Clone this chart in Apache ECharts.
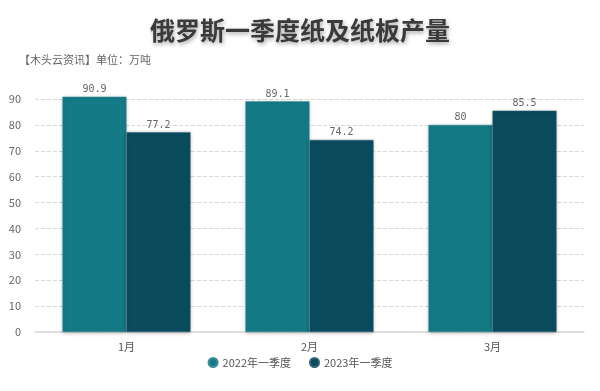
<!DOCTYPE html>
<html><head><meta charset="utf-8">
<script src="https://cdn.jsdelivr.net/npm/echarts@6/dist/echarts.min.js"></script>
<style>html,body{margin:0;padding:0;background:#fff}#c{width:600px;height:391px}</style>
</head><body><div id="c"></div>
<script>
var categories = ['1月', '2月', '3月'];
var seriesNames = ['2022年一季度', '2023年一季度'];
var values2022 = [90.9, 89.1, 80];
var values2023 = [77.2, 74.2, 85.5];
var titleText = '俄罗斯一季度纸及纸板产量';
var subText = '【木头云资讯】单位：万吨';

var chart = echarts.init(document.getElementById('c'));
var font = '"Noto Sans CJK SC", "Noto Sans", sans-serif';
chart.setOption({
  animation: false,
  textStyle: { fontFamily: font },
  title: [{
    text: titleText, left: 'center', top: 13,
    textStyle: { fontSize: 25, fontWeight: 'bold', color: '#3a3a3a', fontFamily: font,
      textShadowColor: 'rgba(0,0,0,0.35)', textShadowBlur: 4, textShadowOffsetX: 1, textShadowOffsetY: 2 }
  }, {
    text: subText, left: 14, top: 49,
    textStyle: { fontSize: 11, fontWeight: 'normal', color: '#666', fontFamily: font }
  }],
  legend: {
    bottom: 18, left: 'center', icon: 'circle', itemWidth: 9, itemHeight: 9, itemGap: 18,
    textStyle: { fontSize: 11, color: '#555' },
    data: seriesNames
  },
  grid: { left: 35, right: 16, top: 99, bottom: 59 },
  xAxis: {
    type: 'category', data: categories,
    axisLine: { lineStyle: { color: '#d9d9d9', width: 1.5 } },
    axisTick: { show: false },
    axisLabel: { color: '#555', fontSize: 11, margin: 9 }
  },
  yAxis: {
    type: 'value', min: 0, max: 90, interval: 10,
    axisLine: { show: false }, axisTick: { show: false },
    axisLabel: { color: '#666', fontSize: 11, margin: 14 },
    splitLine: { lineStyle: { type: 'dashed', color: '#d8d8d8' } }
  },
  series: [{
    name: seriesNames[0], type: 'bar', data: values2022, clip: false,
    barGap: '0%', barCategoryGap: '30%',
    itemStyle: { color: '#147a86', borderColor: '#3c8f98', borderWidth: 0.5,
      shadowColor: 'rgba(0,0,0,0.25)', shadowBlur: 4, shadowOffsetY: 1 },
    label: { show: true, position: 'top', distance: 2, color: '#666', fontSize: 10, fontFamily: '"DejaVu Sans Mono", monospace' }
  }, {
    name: seriesNames[1], type: 'bar', data: values2023, clip: false,
    itemStyle: { color: '#0b4b5e', borderColor: '#2f6475', borderWidth: 0.5,
      shadowColor: 'rgba(0,0,0,0.25)', shadowBlur: 4, shadowOffsetY: 1 },
    label: { show: true, position: 'top', distance: 2, color: '#666', fontSize: 10, fontFamily: '"DejaVu Sans Mono", monospace' }
  }]
});
</script></body></html>
